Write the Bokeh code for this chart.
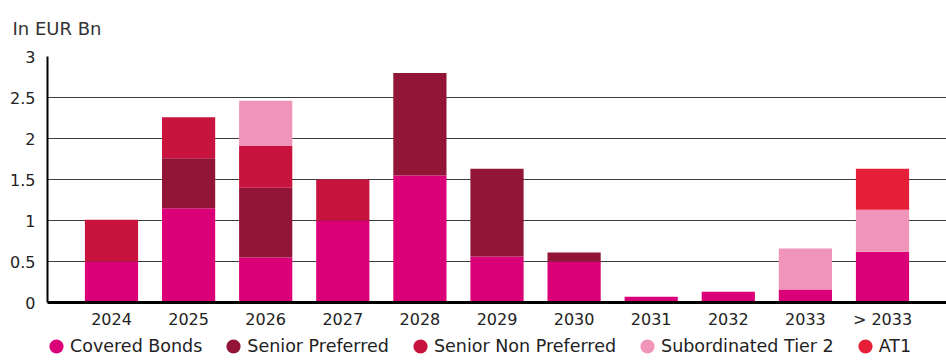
from bokeh.plotting import figure
from bokeh.layouts import column
from bokeh.models import FactorRange, Range1d, Legend, LegendItem, ColumnDataSource, FixedTicker
from bokeh.embed import file_html
from bokeh.resources import INLINE

years = ["2024", "2025", "2026", "2027", "2028", "2029", "2030", "2031", "2032", "2033", "> 2033"]
covered_bonds = [0.50, 1.15, 0.55, 1.00, 1.55, 0.56, 0.50, 0.07, 0.13, 0.16, 0.62]
senior_preferred = [0.00, 0.61, 0.85, 0.00, 1.25, 1.07, 0.11, 0.00, 0.00, 0.00, 0.00]
senior_non_preferred = [0.51, 0.50, 0.51, 0.50, 0.00, 0.00, 0.00, 0.00, 0.00, 0.00, 0.00]
subordinated_tier2 = [0.00, 0.00, 0.55, 0.00, 0.00, 0.00, 0.00, 0.00, 0.00, 0.50, 0.51]
at1 = [0.00, 0.00, 0.00, 0.00, 0.00, 0.00, 0.00, 0.00, 0.00, 0.00, 0.50]

series = ["Covered Bonds", "Senior Preferred", "Senior Non Preferred", "Subordinated Tier 2", "AT1"]
keys = ["cb", "sp", "snp", "t2", "at1"]
colors = ["#DC0078", "#921436", "#C8133E", "#F094BA", "#E61F38"]
y_ticks = [0, 0.5, 1, 1.5, 2, 2.5, 3]

FONT = "DejaVu Sans"
W = 946

source = ColumnDataSource(dict(x=years, cb=covered_bonds, sp=senior_preferred,
                               snp=senior_non_preferred, t2=subordinated_tier2, at1=at1))

p = figure(x_range=FactorRange(*years, range_padding=0.33, range_padding_units="absolute"),
           y_range=Range1d(0, 3),
           width=W, height=332, output_backend="svg", toolbar_location=None,
           min_border_left=47, min_border_right=0, min_border_top=56, min_border_bottom=30)

p.vbar_stack(keys, x="x", width=0.69, color=colors, source=source, line_width=0)

# title
p.title.text = "In EUR Bn"
p.title.text_font = FONT
p.title.text_font_size = "18px"
p.title.text_font_style = "normal"
p.title.text_color = "#333333"
p.title.offset = -35
p.title.vertical_align = "top"
p.title.standoff = 32

# axes
p.yaxis.ticker = FixedTicker(ticks=y_ticks)
p.yaxis.axis_line_color = "black"
p.yaxis.axis_line_width = 2
p.xaxis.axis_line_color = "black"
p.xaxis.axis_line_width = 3
for ax in (p.xaxis[0], p.yaxis[0]):
    ax.major_tick_line_color = None
    ax.minor_tick_line_color = None
    ax.major_label_text_font = FONT
    ax.major_label_text_font_size = "16px"
    ax.major_label_text_color = "#222222"
p.yaxis.major_label_standoff = 6
p.xaxis.major_label_standoff = 1

p.xgrid.grid_line_color = None
p.ygrid.ticker = FixedTicker(ticks=y_ticks)
p.ygrid.grid_line_color = "#3c3c3c"
p.ygrid.grid_line_width = 1
p.outline_line_color = None

# legend strip below the chart
lf = figure(width=W, height=28, x_range=Range1d(0, 1), y_range=Range1d(0, 1),
            output_backend="svg", toolbar_location=None,
            x_axis_location=None, y_axis_location=None,
            min_border_left=0, min_border_right=0, min_border_top=0, min_border_bottom=0)
lf.grid.visible = False
lf.outline_line_color = None

nan = float("nan")
items = []
for name, c in zip(series, colors):
    r = lf.scatter(x=[nan], y=[nan], marker="circle", size=14, fill_color=c, line_color=c, line_width=3)
    items.append(LegendItem(label=name, renderers=[r]))
legend = Legend(items=items, orientation="horizontal", location=(-5, 0),
                glyph_width=28, glyph_height=28, label_standoff=-1, spacing=17,
                padding=0, margin=0, border_line_color=None, background_fill_alpha=0,
                label_text_font=FONT, label_text_font_size="17.5px", label_text_color="#222222")
lf.add_layout(legend, "center")

layout = column(p, lf, spacing=0)
open("out.html", "w").write(file_html(layout, INLINE))
